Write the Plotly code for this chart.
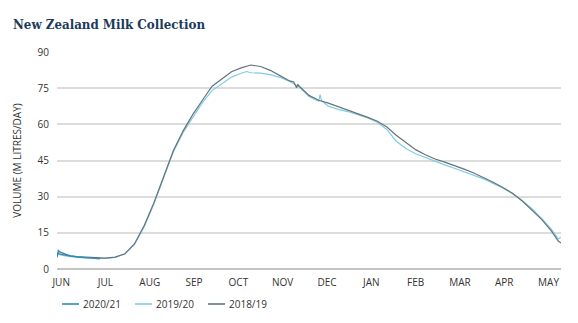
import numpy as np
import plotly.graph_objects as go

# Day of season (0 = 1 June) and daily collection, million litres/day
days_2019_20 = [0, 7, 14, 21, 28, 35, 42, 49, 56, 63, 70, 77, 84, 91, 98, 105, 112, 119,
                126, 133, 137, 140, 147, 154, 161, 168, 175, 182, 187, 189, 190, 191, 196,
                203, 210, 217, 224, 231, 238, 245, 252, 259, 266, 273, 280, 287, 294, 301,
                308, 315, 322, 329, 336, 343, 350, 357, 362, 364]
vol_2019_20 = [6.2, 5.3, 4.8, 4.6, 4.4, 4.4, 4.8, 6.2, 10.2, 17.5, 27.0, 38.0, 48.5, 56.5,
               63.0, 69.0, 74.0, 76.8, 79.6, 81.2, 81.9, 81.4, 81.2, 80.6, 79.5, 77.8,
               75.5, 71.5, 70.2, 69.6, 72.3, 69.8, 67.5, 66.2, 65.3, 64.2, 62.8, 61.0,
               58.0, 53.0, 50.0, 47.8, 46.2, 44.6, 43.2, 41.8, 40.3, 38.8, 37.4, 35.5,
               33.6, 31.2, 28.4, 25.0, 21.0, 16.5, 12.5, 13.2]

days_2018_19 = [0, 7, 14, 21, 28, 35, 42, 49, 56, 63, 70, 77, 84, 91, 98, 105, 112, 119,
                126, 133, 140, 147, 154, 161, 168, 171, 173, 174, 175, 182, 189, 196, 203,
                210, 217, 224, 231, 238, 245, 252, 259, 266, 273, 280, 287, 294, 301, 308,
                315, 322, 329, 336, 343, 350, 357, 362, 364]
vol_2018_19 = [6.5, 5.6, 5.1, 4.8, 4.5, 4.5, 4.9, 6.3, 10.5, 18.0, 27.5, 38.5, 49.0, 57.2,
               64.0, 70.0, 75.8, 78.8, 81.8, 83.4, 84.6, 84.0, 82.4, 80.2, 78.0, 77.6,
               75.2, 76.6, 75.8, 72.0, 70.0, 68.8, 67.4, 66.0, 64.6, 63.0, 61.4, 59.0,
               55.5, 52.5, 49.5, 47.4, 45.6, 44.3, 43.0, 41.4, 39.8, 38.0, 36.0, 33.8,
               31.4, 28.2, 24.6, 20.6, 15.8, 11.6, 10.8]

days_2020_21 = [0, 1, 2, 4, 7, 10, 14, 18, 21, 25, 28, 31]
vol_2020_21 = [4.8, 7.6, 7.1, 6.5, 5.9, 5.4, 5.0, 4.8, 4.6, 4.5, 4.3, 4.2]

month_labels = ["JUN", "JUL", "AUG", "SEP", "OCT", "NOV", "DEC", "JAN", "FEB",
                "MAR", "APR", "MAY"]
tick_pos = np.linspace(3, 355, len(month_labels))

seasons = ["2020/21", "2019/20", "2018/19"]
colors = {"2020/21": "#2b8cbe", "2019/20": "#7ccde6", "2018/19": "#66737d"}

W, H = 578, 323
M = dict(l=57, r=17, t=52, b=54)
plot_w = W - M["l"] - M["r"]
plot_h = H - M["t"] - M["b"]


def px_x(px):
    return (px - M["l"]) / plot_w


def px_y(py):
    return (H - M["b"] - py) / plot_h


font_family = "Open Sans, Lato, sans-serif"
label_font = dict(family=font_family, size=10, color="#333333")

fig = go.Figure()
fig.add_trace(go.Scatter(x=days_2019_20, y=vol_2019_20, mode="lines", name="2019/20",
                         line=dict(color=colors["2019/20"], width=1.2)))
fig.add_trace(go.Scatter(x=days_2018_19, y=vol_2018_19, mode="lines", name="2018/19",
                         line=dict(color=colors["2018/19"], width=1.2)))
fig.add_trace(go.Scatter(x=days_2020_21, y=vol_2020_21, mode="lines", name="2020/21",
                         line=dict(color=colors["2020/21"], width=1.4)))

# compact legend row under the axis
shapes, annotations = [], []
for i, name in enumerate(seasons):
    x0 = 62 + 73 * i
    shapes.append(dict(type="line", xref="paper", yref="paper",
                       x0=px_x(x0), x1=px_x(x0 + 17), y0=px_y(304), y1=px_y(304),
                       line=dict(color=colors[name], width=1.6)))
    annotations.append(dict(text=name, xref="paper", yref="paper", x=px_x(x0 + 19),
                            y=px_y(304), xanchor="left", yanchor="middle",
                            showarrow=False, font=label_font))

fig.update_layout(
    width=W, height=H,
    margin=M,
    paper_bgcolor="white", plot_bgcolor="white",
    title=dict(text="<b>New Zealand Milk Collection</b>", xref="container", x=13 / W,
               xanchor="left", yref="container", y=1 - 24 / H, yanchor="middle",
               font=dict(family="DejaVu Serif Condensed, Liberation Serif, serif",
                         size=13.2, color="#1b3a5c")),
    showlegend=False,
    shapes=shapes,
    annotations=annotations,
    xaxis=dict(range=[0, 364], tickvals=tick_pos, ticktext=month_labels,
               showgrid=False, zeroline=False, showline=False, ticks="",
               ticklabelstandoff=6, tickfont=label_font, fixedrange=True),
    yaxis=dict(range=[0, 90], tickvals=[0, 15, 30, 45, 60, 75, 90], showgrid=True,
               gridcolor="#dcdcdc", gridwidth=1.5, zeroline=True, zerolinecolor="#c4c4c4",
               zerolinewidth=1.5, showline=False, ticks="", ticklabelstandoff=7,
               tickfont=label_font,
               title=dict(text="VOLUME (M LITRES/DAY)", standoff=14,
                          font=dict(family=font_family, size=10, color="#333333"))),
)

fig.write_html("out.html")
